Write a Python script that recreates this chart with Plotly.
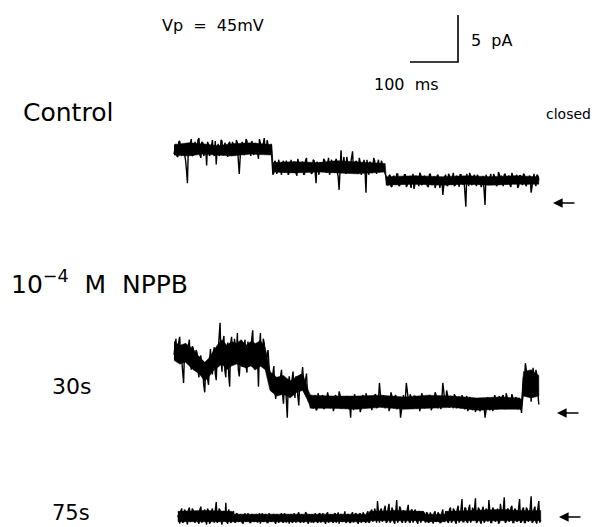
import numpy as np
import plotly.graph_objects as go

# ---------------- data: pA relative to the closed level ----------------
# samples read every 4 ms (even) and the in-between samples (odd, +2 ms)
DT_MS = 4
CONTROL_T0 = 0
CONTROL_PA = [
    5.2, 6.3, 4.9, 6.6, 5.0, 6.1, 4.6, 2.1, 5.3, 6.8,
    5.1, 6.5, 5.6, 6.9, 4.8, 6.4, 5.5, 4.0, 6.2, 5.3,
    6.7, 5.0, 4.1, 6.3, 5.4, 6.6, 5.2, 6.1, 4.9, 6.5,
    5.6, 6.0, 5.1, 6.4, 3.1, 5.8, 6.2, 5.3, 6.6, 5.7,
    5.0, 6.3, 5.5, 6.0, 4.7, 6.4, 5.8, 6.9, 5.4, 6.2,
    5.6, 4.8,
    3.2, 4.3, 3.4, 4.1, 3.0, 4.5, 3.6, 3.9,
    3.3, 4.6, 3.5, 4.2, 2.9, 4.0, 3.7, 4.4, 3.1, 4.8,
    3.6, 4.1, 3.2, 4.5, 2.1, 3.9, 4.3, 3.4, 4.7, 3.5,
    4.2, 3.0, 4.6, 3.8, 4.4, 3.3, 1.4, 5.6, 4.0, 3.5,
    4.9, 3.6, 4.2, 5.5, 3.4, 4.5, 3.1, 4.3, 3.7, 4.6,
    1.1, 3.5, 4.4, 3.2, 4.8, 3.6, 4.1, 3.3, 4.5, 3.8,
    3.1,
    2.0, 2.9, 1.8, 2.7, 2.2, 3.1, 1.9, 2.6, 2.3, 3.0,
    1.7, 2.8, 2.1, 2.5, 1.5, 2.9, 2.2, 3.2, 1.9, 2.6,
    2.4, 1.8, 3.0, 2.1, 2.7, 1.6, 2.9, 2.3, 2.6, 0.85,
    2.8, 2.0, 3.1, 2.2, 2.7, 1.8, 2.9, 2.4, 3.0, 2.1,
    2.6, -0.4, 2.5, 3.2, 1.9, 2.8, 2.2, 3.0, 2.4, 1.7,
    2.9, -0.2, 2.7, 2.1, 3.1, 2.3, 2.8, 1.8, 3.3, 2.5,
    2.0, 3.0, 2.4, 2.8, 1.9, 3.2, 2.2, 2.7, 1.6, 2.9,
    2.3, 3.1, 2.0, 2.6, 2.9, 1.1, 2.7, 2.2, 3.0, 2.4,
]
CONTROL_PA_ODD = [
    6.0, 5.0, 6.5, 5.3, 6.0, 5.2, 3.5, 6.1, 6.4, 5.0,
    6.2, 5.3, 6.7, 5.1, 6.5, 5.0, 5.9, 6.5, 5.0, 6.4,
    5.2, 6.6, 5.8, 5.0, 6.7, 5.1, 6.4, 5.3, 6.3, 5.2,
    6.5, 5.4, 6.7, 4.5, 5.0, 6.5, 5.1, 6.8, 5.2, 6.0,
    6.6, 5.1, 6.4, 5.3, 6.8, 5.2, 6.5, 5.5, 6.7, 5.3,
    6.3,
    3.0,
    4.5, 3.1, 4.6, 3.3, 4.2, 3.2, 4.5, 3.0, 4.3, 3.4,
    4.4, 3.2, 4.7, 3.5, 4.3, 3.0, 4.5, 3.3, 4.2, 3.1,
    4.6, 3.3, 4.4, 3.0, 4.2, 3.6, 4.5, 3.2, 4.8, 3.4,
    4.1, 3.2, 4.7, 2.8, 4.5, 3.3, 4.9, 3.1, 4.4, 3.5,
    4.6, 3.2, 4.3, 3.5, 4.8, 3.0, 4.4, 3.3, 4.6, 3.0,
    4.2, 3.3, 4.5, 3.1, 4.6, 3.4, 4.1, 3.2,
    2.8, 1.9, 3.0, 1.7, 2.9, 2.0, 3.1, 1.8, 2.7, 2.1,
    3.0, 1.9, 2.8, 1.6, 3.1, 2.0, 2.7, 1.8, 3.0, 2.1,
    2.9, 2.0, 1.7, 3.1, 1.9, 2.8, 2.0, 3.0, 1.6, 2.7,
    2.2, 3.0, 1.8, 2.9, 2.0, 3.2, 1.9, 2.8, 1.7, 3.0,
    2.0, 1.2, 3.1, 1.8, 2.9, 2.1, 3.0, 1.8, 2.8, 2.2,
    2.0, 1.5, 3.0, 1.9, 2.7, 2.0, 3.1, 2.2, 2.0, 3.0,
    2.9, 1.8, 3.1, 2.0, 2.9, 1.7, 2.8, 2.0, 3.0, 1.8,
    2.9, 1.9, 3.0, 1.8, 2.0, 2.8, 1.9, 3.1, 1.8, 2.9,
]
# dense core of the noise band (time ms, upper pA, lower pA)
CONTROL_CORE_T = [0, 30, 60, 90, 120, 160, 204, 206, 250, 300, 340, 380, 440,
                  442, 500, 560, 610, 660, 710, 760]
CONTROL_CORE_HI = [6.2, 6.4, 6.3, 6.1, 6.3, 6.4, 6.2, 4.3, 4.4, 4.3, 4.5, 4.4, 4.2,
                   2.8, 2.9, 2.8, 2.9, 2.8, 2.9, 2.8]
CONTROL_CORE_LO = [5.1, 5.0, 5.2, 5.1, 5.0, 5.2, 5.1, 3.3, 3.2, 3.3, 3.2, 3.1, 3.3,
                   1.9, 2.0, 1.9, 2.0, 1.9, 2.0, 2.0]

NPPB30_T0 = 0
NPPB30_PA = [
    6.2, 7.9, 6.5, 8.1, 5.8, 3.2, 7.4, 6.0, 7.8, 4.6,
    6.9, 5.0, 6.4, 3.8, 6.1, 4.3, 2.2, 5.4, 3.0, 6.8,
    4.1, 7.0, 3.5, 6.6, 9.6, 4.4, 8.2, 3.8, 7.5, 2.8,
    8.1, 5.2, 6.9, 8.5, 3.9, 7.2, 5.6, 7.8, 4.3, 6.8,
    5.1, 8.8, 4.6, 7.3, 2.8, 8.5, 5.4, 7.4, 4.9, 6.7,
    4.0, 2.4, 5.0, 1.5, 3.8, 2.0, 4.6, 1.0, 3.4, -0.5,
    3.9, 2.2, 4.4, 1.6, 3.5, 0.8, 4.1, 4.9, 2.6, 4.2, 1.2,
    1.9, 0.6, 1.5, 0.3, 2.1, 1.0, 1.7, 0.4, 1.4, 2.2,
    0.7, 1.6, 0.2, 1.9, 1.1, 2.3, 0.5, 1.3, 0.9, 1.8,
    0.4, -0.5, 1.2, 2.0, 0.6, 1.5, 0.1, 1.7, 0.8, 2.1,
    1.0, 1.8, 0.3, 1.4, 2.0, 0.7, 3.2, 1.1, 1.9, 0.5,
    1.6, 0.2, 2.2, 1.0, 1.7, 0.4, 1.3, -0.5, 1.5, 0.8,
    3.2, 1.2, 2.0, 0.5, 1.8, 0.9, 1.4, 0.2, 2.1, 1.1,
    1.7, 0.6, 1.9, 0.3, 1.5, 2.2, 0.8, 1.3, 0.4, 3.2,
    1.4, 2.4, 0.7, 1.8, 1.0, 2.0, 0.5, 1.6, 0.9, 1.9,
    0.6, 1.5, 0.2, 1.7, 0.8, 1.2, 0.1, 1.4, 0.4, 1.0,
    0.3, -0.5, 1.1, 0.6, 1.6, 0.2, 1.9, 0.9, 1.5, 0.5,
    1.8, 1.0, 2.1, 0.6, 1.4, 2.0, 0.8, 1.7, 0.4, 1.3,
    0.0,
    3.8, 5.3, 2.6, 4.4, 1.2, 4.8, 2.0, 4.0, 0.9,
]
NPPB30_PA_ODD = [
    7.3, 5.9, 7.6, 5.4, 4.4, 6.8, 5.6, 7.2, 5.4, 7.1,
    5.6, 6.7, 4.5, 5.9, 4.7, 3.0, 4.6, 3.6, 5.6, 4.8,
    6.5, 4.2, 6.0, 8.1, 5.6, 7.6, 4.5, 6.9, 4.0, 7.4,
    6.0, 7.9, 6.2, 4.6, 6.6, 4.9, 7.2, 5.0, 7.6, 5.5,
    7.9, 5.3, 6.4, 5.8, 6.9, 4.9, 7.9, 5.6, 6.2, 4.9,
    3.1, 4.2, 2.3, 3.3, 2.6, 3.9, 2.1, 2.8, 1.4, 2.9,
    3.1, 3.6, 2.5, 3.9, 1.8, 3.3, 3.8, 3.1, 3.5, 2.2,
    1.4, 1.8, 0.5, 1.9, 0.4, 1.6, 0.8, 1.9, 0.6, 1.3,
    1.7, 0.5, 1.6, 0.6, 1.8, 0.7, 1.9, 0.6, 1.7, 0.5,
    1.6, 0.9, 1.8, 0.3, 1.7, 0.7, 1.6, 0.5, 1.9, 0.6,
    1.7, 0.6, 1.5, 0.7, 1.9, 0.5, 1.4, 2.0, 0.6, 1.6,
    0.8, 1.7, 0.6, 1.8, 0.5, 1.9, 0.6, 1.2, 0.4, 1.9,
    1.5, 2.2, 0.6, 1.7, 0.6, 1.8, 0.5, 1.6, 0.7, 1.8,
    0.5, 1.6, 0.7, 1.8, 0.6, 1.2, 1.9, 0.5, 1.8, 1.3,
    2.0, 0.8, 1.9, 0.6, 1.7, 0.5, 1.8, 0.7, 1.6, 0.5,
    1.6, 0.4, 1.8, 0.5, 1.5, 0.3, 1.6, 0.6, 1.5, 0.2,
    1.3, 0.8, 0.4, 1.7, 0.3, 1.4, 0.5, 1.6, 0.4, 1.8,
    0.6, 1.9, 0.4, 1.7, 0.5, 1.3, 1.6, 0.5, 1.5, 0.6,
    1.0,
    2.5, 3.0, 4.6, 3.2, 3.5, 2.8, 3.9, 4.6, 2.2,
]
NPPB30_CORE_T = [0, 12, 24, 40, 52, 64, 72, 80, 90, 100, 110, 120, 130, 140, 150, 160,
                 170, 180, 190, 200, 214, 228, 242, 256, 268, 280, 284, 330, 380, 430,
                 480, 530, 580, 630, 680, 720, 724, 728, 744, 760]
NPPB30_CORE_HI = [7.6, 7.2, 7.4, 6.8, 6.0, 5.4, 5.8, 6.4, 7.2, 7.8, 7.2, 7.6, 7.4, 7.8,
                  7.2, 7.6, 7.4, 7.7, 7.0, 4.4, 3.8, 4.0, 3.4, 3.9, 4.2, 2.4,
                  1.9, 1.8, 1.8, 1.9, 1.7, 1.9, 1.8, 1.6, 1.7, 1.6, 1.4, 4.4, 4.6, 4.0]
NPPB30_CORE_LO = [5.6, 5.2, 5.4, 4.6, 4.2, 3.4, 3.8, 4.4, 4.8, 5.2, 4.6, 5.0, 5.2, 5.0,
                  4.8, 5.0, 4.6, 5.0, 4.6, 2.4, 1.8, 2.0, 1.6, 2.2, 2.4, 1.2,
                  0.5, 0.5, 0.4, 0.6, 0.4, 0.5, 0.6, 0.3, 0.4, 0.4, 0.3, 1.8, 1.6, 1.8]

NPPB75_T0 = 8
NPPB75_PA = [
    0.2, -0.7, 0.9, -0.5, 0.6, -0.8, 1.0, -0.4, 0.7, -0.6,
    0.4, -0.7, 1.1, -0.3, 0.8, -0.8, 0.6, -0.5, 0.9, -0.6,
    1.6, -0.4, 0.7, -0.8, 0.5, 1.5, -0.7, 0.3, -0.5, 0.6,
    -0.6, 0.3, -0.4, 0.1, -0.7, 0.4, -0.3, 0.0, -0.6, 0.2,
    -0.5, 0.3, -0.2, -0.7, 0.4, -0.4, 0.1, -0.6, 0.2, -0.3,
    0.3, -0.7, 0.0, -0.4, 0.4, -0.6, 0.2, -0.3, -0.7, 0.3,
    -0.5, 0.1, -0.3, 0.5, -0.6, 0.2, -0.4, 0.4, -0.7, 0.0,
    0.3, -0.5, 0.2, -0.6, 0.4, -0.3, 0.1, -0.7, 0.5, -0.4,
    0.2, -0.6, 0.4, -0.2, -0.7, 0.3, -0.4, 0.6, -0.5, 0.1,
    -0.6, 0.5, -0.3, 0.3, -0.7, 0.4, -0.4, 0.2, -0.6, 0.6,
    -0.5, 0.8, -0.3, 0.5, 1.7, -0.6, 0.9, -0.2, 1.2, -0.5,
    1.4, -0.4, 0.7, -0.7, 1.8, -0.3, 0.9, -0.6, 0.5, -0.4,
    1.3, -0.6, 0.8, -0.2, 0.4, -0.7, 0.6, -0.3, 0.2, -0.6,
    0.4, -0.5, 0.1, -0.7, 0.6, -0.3, 0.3, -0.6, 0.8, -0.4,
    0.5, -0.6, 1.0, -0.4, 0.7, -0.7, 1.2, -0.3, 1.9, -0.5,
    0.9, -0.6, 1.3, -0.2, 0.6, 2.0, -0.5, 0.8, -0.7, 1.1,
    -0.4, 0.7, 1.8, -0.6, 1.0, -0.3, 0.5, -0.7, 1.4, -0.2,
    2.1, -0.5, 0.9, -0.3, 1.2, -0.6, 0.7, -0.4, 1.9, -0.5,
    1.0, -0.6, 0.8, -0.2, 2.2, -0.5, 1.1, -0.7, 1.7, -0.3,
]
NPPB75_PA_ODD = [
    -0.4, 0.6, -0.6, 0.8, -0.3, 0.7, -0.5, 0.9, -0.4, 0.5,
    -0.5, 0.8, -0.6, 0.5, -0.4, 0.9, -0.7, 0.6, -0.3, 0.7,
    -0.6, 0.9, -0.4, 0.6, -0.3, -0.5, 0.8, -0.6, 0.5, -0.5,
    0.4, -0.5, 0.3, -0.6, 0.2, -0.5, 0.4, -0.6, 0.3, -0.4,
    0.2, -0.6, 0.4, 0.1, -0.5, 0.3, -0.6, 0.4, -0.5, 0.2,
    -0.5, 0.3, -0.6, 0.2, -0.5, 0.4, -0.6, 0.3, 0.1, -0.6,
    0.4, -0.6, 0.3, -0.5, 0.2, -0.6, 0.5, -0.5, 0.3, -0.6,
    -0.6, 0.4, -0.5, 0.3, -0.6, 0.4, -0.5, 0.3, -0.6, 0.2,
    -0.5, 0.3, -0.6, 0.5, 0.2, -0.5, 0.4, -0.6, 0.3, -0.6,
    0.3, -0.6, 0.4, -0.5, 0.3, -0.6, 0.5, -0.5, 0.4, -0.6,
    0.6, -0.5, 0.9, -0.6, 0.4, 0.7, -0.5, 0.8, -0.6, 0.9,
    -0.6, 1.0, -0.5, 0.6, -0.6, 1.1, -0.5, 0.7, -0.6, 0.8,
    -0.5, 0.7, -0.6, 0.8, -0.5, 0.5, -0.6, 0.6, -0.5, 0.5,
    -0.6, 0.5, -0.6, 0.4, -0.5, 0.5, -0.6, 0.4, -0.5, 0.6,
    -0.5, 0.8, -0.6, 0.9, -0.5, 0.8, -0.6, 0.9, -0.5, 1.0,
    -0.5, 0.9, -0.6, 1.0, 0.8, -0.6, 1.0, -0.5, 0.7, -0.6,
    0.9, -0.5, 0.6, -0.6, 0.8, -0.5, 0.9, -0.6, 0.7, 0.8,
    -0.6, 0.8, -0.5, 1.0, -0.6, 0.9, -0.5, 1.0, -0.6, 0.8,
    -0.6, 1.0, -0.5, 0.9, -0.6, 0.8, -0.5, 0.9, -0.6,
]
NPPB75_CORE_T = [8, 60, 120, 124, 200, 300, 404, 408, 460, 520, 524, 564, 568, 620,
                 680, 720, 764]
NPPB75_CORE_HI = [0.6, 0.7, 0.6, 0.3, 0.3, 0.3, 0.3, 0.6, 0.7, 0.6, 0.3, 0.3, 0.6, 0.7,
                  0.8, 0.7, 0.7]
NPPB75_CORE_LO = [-0.5, -0.5, -0.5, -0.5, -0.5, -0.5, -0.5, -0.4, -0.4, -0.4, -0.5,
                  -0.5, -0.4, -0.4, -0.4, -0.4, -0.4]

SCALE_MS = 100
SCALE_PA = 5

LABELS = ["Control", "30s", "75s"]

# ---------------- layout geometry ----------------
W, H = 594, 527
PX_PER_MS = 0.48
PX_PER_PA = 9.4
X0_PX = 174  # pixel where t = 0


def tx(px):
    return (px - X0_PX) / PX_PER_MS


def ty(py):
    return (H - py) / PX_PER_PA


CLOSED_Y = {"Control": ty(203), "30s": ty(413), "75s": ty(517)}

fig = go.Figure()


def add_trace(t0, even, odd, core_t, core_hi, core_lo, base):
    # dense core of the band
    ct = list(core_t) + list(core_t)[::-1]
    cy = [v + base for v in core_hi] + [v + base for v in core_lo][::-1]
    fig.add_trace(go.Scatter(
        x=ct, y=cy, mode="lines", fill="toself", fillcolor="black",
        line=dict(color="black", width=0.5), hoverinfo="skip", showlegend=False))
    # noisy record: merge even and odd samples in time order
    te = t0 + DT_MS * np.arange(len(even))
    to = t0 + DT_MS / 2 + DT_MS * np.arange(len(odd))
    t = np.concatenate([te, to])
    v = np.concatenate([np.asarray(even, float), np.asarray(odd, float)])
    order = np.argsort(t, kind="stable")
    fig.add_trace(go.Scatter(
        x=t[order], y=v[order] + base, mode="lines",
        line=dict(color="black", width=1.4), hoverinfo="skip", showlegend=False))


add_trace(CONTROL_T0, CONTROL_PA, CONTROL_PA_ODD, CONTROL_CORE_T, CONTROL_CORE_HI,
          CONTROL_CORE_LO, CLOSED_Y["Control"])
add_trace(NPPB30_T0, NPPB30_PA, NPPB30_PA_ODD, NPPB30_CORE_T, NPPB30_CORE_HI,
          NPPB30_CORE_LO, CLOSED_Y["30s"])
add_trace(NPPB75_T0, NPPB75_PA, NPPB75_PA_ODD, NPPB75_CORE_T, NPPB75_CORE_HI,
          NPPB75_CORE_LO, CLOSED_Y["75s"])

# scale bar
cx, cy = tx(458), ty(62)
fig.add_trace(go.Scatter(
    x=[cx - SCALE_MS, cx, cx], y=[cy, cy, cy + SCALE_PA], mode="lines",
    line=dict(color="black", width=1.6), hoverinfo="skip", showlegend=False))

FONT = "DejaVu Sans"
ann = []


def text(s, px, py, size, anchor="left"):
    ann.append(dict(text=s, x=px / W, y=1 - py / H, xref="paper", yref="paper",
                    xanchor=anchor, yanchor="middle", showarrow=False,
                    font=dict(family=FONT, size=size, color="black")))


text("Vp  =  45mV", 160, 26, 16)
text("5  pA", 469, 40, 16)
text("100  ms", 372, 84, 16)
text("closed", 593, 114, 14, anchor="right")
text(LABELS[0], 21, 112, 25)
text("10<sup>−4</sup>  M  NPPB", 9, 282, 25)
text(LABELS[1], 50, 386, 22)
text(LABELS[2], 50, 513, 21)

# closed-level arrows
for key, hx in [("Control", 553), ("30s", 557), ("75s", 559)]:
    ann.append(dict(x=tx(hx), y=CLOSED_Y[key], xref="x", yref="y", text="",
                    showarrow=True, ax=23, ay=0, arrowhead=2, arrowsize=1.2,
                    arrowwidth=1.6, arrowcolor="black"))

fig.update_layout(
    width=W, height=H, margin=dict(l=0, r=0, t=0, b=0),
    paper_bgcolor="white", plot_bgcolor="white",
    xaxis=dict(range=[tx(0), tx(W)], visible=False, fixedrange=True),
    yaxis=dict(range=[ty(H), ty(0)], visible=False, fixedrange=True),
    annotations=ann, showlegend=False,
)

fig.write_html("out.html")
